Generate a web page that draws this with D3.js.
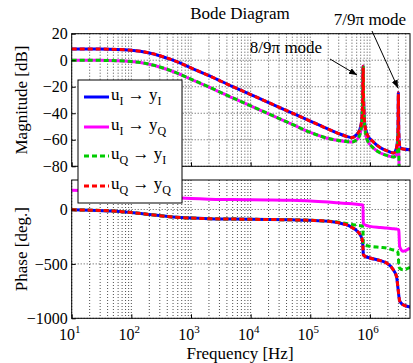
<!DOCTYPE html>
<html>
<head>
<meta charset="utf-8">
<script src="https://cdn.jsdelivr.net/npm/d3@7"></script>
<style>
  body { margin: 0; background: #fff; }
  svg { display: block; }
  text { font-family: "Liberation Serif", "DejaVu Serif", serif; fill: #000; }
</style>
</head>
<body>
<div id="chart"></div>
<script>
// frequency grid for magnitude (Hz)
const magFreq = [10, 30, 100, 200, 500, 1e3, 2e3, 5e3, 1e4, 2e4, 5e4, 1e5, 2e5, 3e5, 4e5, 5e5, 6e5, 6.8e5, 7.3e5, 7.55e5, 7.7e5, 7.85e5, 8.2e5, 9e5, 1.1e6, 1.5e6, 2e6, 2.5e6, 2.8e6, 2.95e6, 3e6, 3.05e6, 3.2e6, 3.6e6, 4.7e6];
// uI->yI and uQ->yQ (identical)
const magII = [8.5, 8.4, 7.5, 5.5, 0, -5.8, -11.7, -19.9, -25.9, -31.9, -39.9, -45.9, -52, -55.3, -57.3, -58.3, -56, -52, -45, -32, -4.5, -32, -48, -56, -61, -66, -68.5, -70, -66, -55, -24.6, -55, -66, -67, -67.5];
// uI->yQ and uQ->yI (identical)
const magIQ = [0, -0.1, -1, -3, -8.5, -14.3, -20.2, -28.4, -34.4, -40.4, -48.4, -54.4, -59, -60.5, -61.3, -61.7, -60, -56, -48, -32, -4.5, -32, -50, -60, -65.5, -70, -72, -73, -71, -62, -50, -70, -95, -92, -88];

// phase (deg)
const phFreq = [10, 20, 50, 100, 200, 500, 1e3, 2e3, 5e3, 1e4, 2e4, 5e4, 1e5, 2e5, 3e5, 4e5, 5e5, 6e5, 7e5, 7.5e5, 7.65e5, 7.75e5, 8e5, 1e6, 1.5e6, 1.9e6, 2.4e6, 2.8e6, 2.95e6, 3.05e6, 3.15e6, 3.6e6, 4.7e6];
const phII = [-3, -6, -15, -28, -46, -69, -79, -85, -88, -90, -92, -95, -99, -108, -122, -140, -165, -195, -240, -290, -350, -410, -425, -446, -470, -492, -544, -620, -720, -790, -840, -876, -896];
const phIQ = [177, 174, 165, 152, 134, 111, 101, 95, 92, 90, 88, 84, 78, 68, 61, 56, 52, 48, 44, 42, 40, -130, -138, -155, -165, -170, -176, -180, -183, -188, -340, -384, -354];
const phQI = [-3, -6, -15, -28, -46, -69, -79, -85, -88, -90, -92, -95, -99, -108, -117, -128, -138, -144, -149, -155, -200, -315, -325, -338, -348, -354, -370, -380, -395, -500, -540, -553, -531];

const magTicks = [20, 0, -20, -40, -60, -80];
const phTicks = [0, -500, -1000];
const majorX = [10, 100, 1e3, 1e4, 1e5, 1e6];

const series = [
    { name: ["u", "I", "y", "I"], mag: magII, ph: phII, color: "#0000ff", dash: null },
    { name: ["u", "I", "y", "Q"], mag: magIQ, ph: phIQ, color: "#ff00ff", dash: null },
    { name: ["u", "Q", "y", "I"], mag: magIQ, ph: phQI, color: "#00cc00", dash: "5,3" },
    { name: ["u", "Q", "y", "Q"], mag: magII, ph: phII, color: "#ff0000", dash: "5,3" },
];

const width = 413;
const height = 363;
const marginLeft = 71.7;
const marginRight = 3;
const magTop = 33.7, magBottom = 166.3;
const phTop = 180, phBottom = 318.3;
const serif = "'Liberation Serif', 'DejaVu Serif', serif";

const svg = d3.select("#chart")
    .append("svg")
    .attr("width", width)
    .attr("height", height);

const x = d3.scaleLog()
    .domain([10, 4.7e6])
    .range([marginLeft, width - marginRight]);

const yMag = d3.scaleLinear().domain([-80, 20]).range([magBottom, magTop]);
const yPh = d3.scaleLinear().domain([-1000, 271]).range([phBottom, phTop]);

// all log grid positions
const gridX = [];
for (let e = 1; e <= 6; e++) {
    for (let m = 1; m <= 9; m++) {
        const v = m * Math.pow(10, e);
        if (v <= 4.7e6) gridX.push(v);
    }
}

const fmt = (d) => (d < 0 ? "\u2212" : "") + Math.abs(d);

function drawPanel(id, y, top, bottom, yTicks, key) {
    const g = svg.append("g");

    svg.append("clipPath").attr("id", id)
        .append("rect")
        .attr("x", marginLeft).attr("y", top)
        .attr("width", x.range()[1] - marginLeft)
        .attr("height", bottom - top);

    // grid
    g.append("g").selectAll("line")
        .data(gridX)
        .join("line")
        .attr("x1", (d) => x(d)).attr("x2", (d) => x(d))
        .attr("y1", top).attr("y2", bottom)
        .attr("stroke", "#000")
        .attr("stroke-width", 0.7)
        .attr("stroke-dasharray", "1,2");

    g.append("g").selectAll("line")
        .data(yTicks)
        .join("line")
        .attr("x1", marginLeft).attr("x2", x.range()[1])
        .attr("y1", (d) => y(d)).attr("y2", (d) => y(d))
        .attr("stroke", "#000")
        .attr("stroke-width", 0.7)
        .attr("stroke-dasharray", "1,2");

    // curves
    const line = d3.line()
        .x((d) => x(d[0]))
        .y((d) => y(d[1]))
        .curve(d3.curveMonotoneX);
    const freq = key === "mag" ? magFreq : phFreq;

    g.append("g")
        .attr("clip-path", `url(#${id})`)
        .selectAll("path")
        .data(series)
        .join("path")
        .attr("d", (s) => line(freq.map((f, i) => [f, s[key][i]])))
        .attr("fill", "none")
        .attr("stroke", (s) => s.color)
        .attr("stroke-width", 3)
        .attr("stroke-dasharray", (s) => s.dash);

    // y axis
    g.append("g")
        .attr("transform", `translate(${marginLeft},0)`)
        .call(d3.axisLeft(y).tickValues(yTicks).tickSize(-4).tickPadding(4).tickFormat(fmt))
        .attr("font-family", serif)
        .attr("font-size", 16)
        .call((a) => a.select(".domain").remove());

    // x ticks (inward)
    g.append("g")
        .attr("transform", `translate(0,${bottom})`)
        .call(d3.axisBottom(x).tickValues(majorX).tickSize(-4).tickFormat(""))
        .call((a) => a.select(".domain").remove());

    // frame
    g.append("rect")
        .attr("x", marginLeft).attr("y", top)
        .attr("width", x.range()[1] - marginLeft)
        .attr("height", bottom - top)
        .attr("fill", "none")
        .attr("stroke", "#000")
        .attr("stroke-width", 1);
}

drawPanel("clipMag", yMag, magTop, magBottom, magTicks, "mag");
drawPanel("clipPh", yPh, phTop, phBottom, phTicks, "ph");

// x tick labels 10^n
const xl = svg.append("g").selectAll("text")
    .data(majorX)
    .join("text")
    .attr("x", (d) => x(d) - 2)
    .attr("y", 340)
    .attr("text-anchor", "middle")
    .style("font-size", "16px");
xl.append("tspan").text("10");
xl.append("tspan")
    .attr("dy", -7)
    .style("font-size", "11px")
    .text((d) => Math.round(Math.log10(d)));

// titles
svg.append("text")
    .attr("x", 240).attr("y", 19)
    .attr("text-anchor", "middle")
    .style("font-size", "17px")
    .text("Bode Diagram");

svg.append("text")
    .attr("x", 240).attr("y", 359)
    .attr("text-anchor", "middle")
    .style("font-size", "17px")
    .text("Frequency [Hz]");

svg.append("text")
    .attr("transform", `translate(27,${(magTop + magBottom) / 2}) rotate(-90)`)
    .attr("text-anchor", "middle")
    .style("font-size", "17px")
    .text("Magnitude [dB]");

svg.append("text")
    .attr("transform", `translate(27,${(phTop + phBottom) / 2}) rotate(-90)`)
    .attr("text-anchor", "middle")
    .style("font-size", "17px")
    .text("Phase [deg.]");

// legend
const legend = svg.append("g");
legend.append("rect")
    .attr("x", 78).attr("y", 80)
    .attr("width", 104).attr("height", 123)
    .attr("fill", "#fff")
    .attr("stroke", "#000")
    .attr("stroke-width", 1);

const legendY = [97, 127, 156, 186];
const item = legend.selectAll("g.item")
    .data(series)
    .join("g")
    .attr("class", "item")
    .attr("transform", (d, i) => `translate(0,${legendY[i]})`);

item.append("line")
    .attr("x1", 84).attr("x2", 109)
    .attr("stroke", (d) => d.color)
    .attr("stroke-width", 3)
    .attr("stroke-dasharray", (d) => d.dash);

const lt = item.append("text")
    .attr("x", 111).attr("y", 3)
    .style("font-size", "17px");
lt.append("tspan").text((d) => d.name[0]);
lt.append("tspan").attr("dy", 5).style("font-size", "12px").text((d) => d.name[1]);
lt.append("tspan").attr("dy", -5).text(" \u2192 ");
lt.append("tspan").text((d) => d.name[2]);
lt.append("tspan").attr("dy", 5).style("font-size", "12px").text((d) => d.name[3]);

// annotations
svg.append("defs").append("marker")
    .attr("id", "arrow")
    .attr("viewBox", "0 0 10 10")
    .attr("refX", 10).attr("refY", 5)
    .attr("markerWidth", 8).attr("markerHeight", 8)
    .attr("orient", "auto")
    .append("path")
    .attr("d", "M0,1L10,5L0,9Z")
    .attr("fill", "#000");

svg.append("text")
    .attr("x", 286).attr("y", 53)
    .attr("text-anchor", "middle")
    .style("font-size", "17px")
    .text("8/9\u03c0 mode");
svg.append("line")
    .attr("x1", 330).attr("y1", 59)
    .attr("x2", 357).attr("y2", 75)
    .attr("stroke", "#000").attr("stroke-width", 1)
    .attr("marker-end", "url(#arrow)");

svg.append("text")
    .attr("x", 370).attr("y", 25)
    .attr("text-anchor", "middle")
    .style("font-size", "17px")
    .text("7/9\u03c0 mode");
svg.append("line")
    .attr("x1", 372).attr("y1", 31)
    .attr("x2", 398).attr("y2", 88)
    .attr("stroke", "#000").attr("stroke-width", 1)
    .attr("marker-end", "url(#arrow)");
</script>
</body>
</html>
